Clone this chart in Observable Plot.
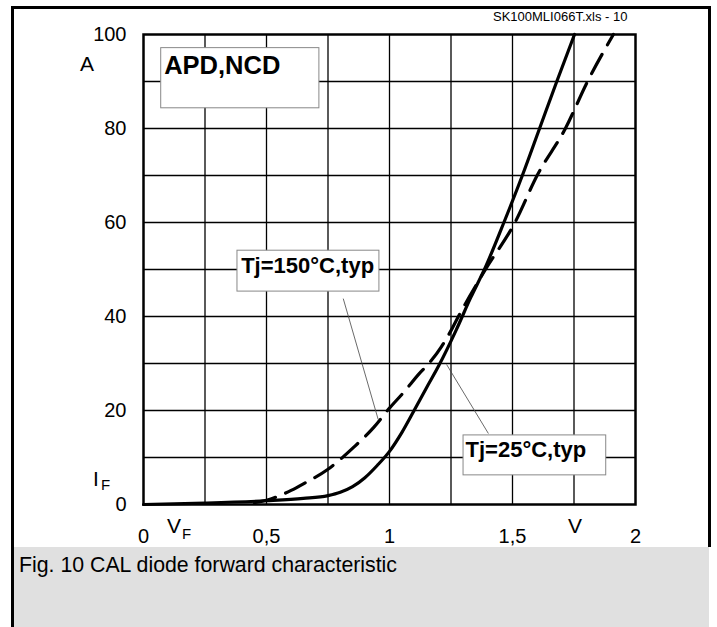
<!DOCTYPE html>
<html>
<head>
<meta charset="utf-8">
<script src="https://cdn.jsdelivr.net/npm/d3@7"></script>
<script src="https://cdn.jsdelivr.net/npm/@observablehq/plot@0.6"></script>
<style>
  html, body { margin: 0; padding: 0; background: white; }
  #wrap { position: relative; width: 717px; height: 627px; background: white; overflow: hidden;
          font-family: "Liberation Sans", Arial, Helvetica, sans-serif; }
  #chart { position: absolute; left: 0; top: 0; }
  #border { position: absolute; left: 11px; top: 6px; width: 700px; height: 541px; box-sizing: border-box;
            border-top: 3px solid black; border-left: 3px solid black; border-right: 3px solid black; }
  #leftbar { position: absolute; left: 11px; top: 547px; width: 3px; height: 80px; background: black; }
  #caption { position: absolute; left: 14px; top: 547px; width: 695px; height: 80px; background: #e0e0e0;
             font-size: 21.3px; line-height: 36px; padding-left: 5px; box-sizing: border-box; color: black; }
  #overlay { position: absolute; left: 0; top: 0; pointer-events: none; }
</style>
</head>
<body>
<div id="wrap">
  <div id="chart"></div>
  <div id="border"></div>
  <div id="leftbar"></div>
  <div id="caption">Fig. 10 CAL diode forward characteristic</div>
  <svg id="overlay" width="717" height="547" font-family="Liberation Sans, Arial, sans-serif" fill="black">
    <text x="493" y="16" font-size="13" dominant-baseline="central">SK100MLI066T.xls - 10</text>
    <text x="87" y="63" font-size="21" text-anchor="middle" dominant-baseline="central">A</text>
    <text x="93" y="478" font-size="21" dominant-baseline="central">I</text>
    <text x="101" y="484" font-size="15" dominant-baseline="central">F</text>
    <text x="167" y="525" font-size="21" dominant-baseline="central">V</text>
    <text x="182" y="533" font-size="15" dominant-baseline="central">F</text>
    <text x="575" y="525" font-size="21" text-anchor="middle" dominant-baseline="central">V</text>
  </svg>
</div>
<script>
// ---- data ----
const v25 = [0, 0.25, 0.5, 0.65, 0.75, 0.8, 0.85, 0.9, 0.95, 1.0, 1.05, 1.1, 1.15, 1.2, 1.27, 1.33, 1.39, 1.465, 1.54, 1.61, 1.68, 1.752];
const i25 = [0, 0.3, 0.8, 1.3, 1.9, 2.6, 3.8, 5.7, 8.3, 11.3, 15.3, 20, 24.8, 29.5, 37, 44, 50.5, 60, 70, 80, 90, 100];
const v150 = [0.45, 0.5, 0.55, 0.6, 0.65, 0.75, 0.855, 0.936, 1.0, 1.06, 1.12, 1.16, 1.21, 1.25, 1.28, 1.39, 1.51, 1.6, 1.715, 1.805, 1.91];
const i150 = [0.4, 0.9, 1.8, 3.0, 4.4, 7.5, 12.2, 16.4, 20.5, 24, 27.8, 30, 33.5, 37, 40, 50, 60, 70, 80, 90, 100];

const xTickValues = [0, 0.5, 1, 1.5, 2];
const yTickValues = [0, 20, 40, 60, 80, 100];
const xGridValues = [0.25, 0.5, 0.75, 1, 1.25, 1.5, 1.75];
const yGridValues = [10, 20, 30, 40, 50, 60, 70, 80, 90];

const labelTexts = ["APD,NCD", "Tj=150°C,typ", "Tj=25°C,typ"];
const labelX = [0.084, 0.397, 1.309];
const labelY = [93.4, 50.85, 11.5];
const labelSize = [25.5, 22, 22];
const boxX1 = [0.072, 0.382, 1.301];
const boxX2 = [0.715, 0.959, 1.881];
const boxY1 = [84.3, 45.3, 6.2];
const boxY2 = [97.1, 54.0, 14.7];
const leadX1 = [0.812, 1.402];
const leadY1 = [43.8, 15.1];
const leadX2 = [0.954, 1.232];
const leadY2 = [18.1, 29.8];

// ---- build tables ----
const d25 = v25.map((v, k) => ({V: v, I: i25[k]}));
const d150 = v150.map((v, k) => ({V: v, I: i150[k]}));
const labels = labelTexts.map((t, k) => ({t, x: labelX[k], y: labelY[k], s: labelSize[k]}));
const boxes = boxX1.map((x1, k) => ({x1, x2: boxX2[k], y1: boxY1[k], y2: boxY2[k]}));
const leaders = leadX1.map((x1, k) => ({x1, y1: leadY1[k], x2: leadX2[k], y2: leadY2[k]}));

const fmt = d => String(d).replace(".", ",");

const chart = Plot.plot({
  width: 717,
  height: 547,
  marginLeft: 143,
  marginRight: 82,
  marginTop: 34,
  marginBottom: 43,
  style: {fontFamily: "'Liberation Sans', Arial, sans-serif", background: "transparent", color: "black", overflow: "visible"},
  x: {domain: [0, 2]},
  y: {domain: [0, 100]},
  marks: [
    Plot.gridX(xGridValues, {stroke: "black", strokeOpacity: 1, strokeWidth: 1.3}),
    Plot.gridY(yGridValues, {stroke: "black", strokeOpacity: 1, strokeWidth: 1.3}),
    Plot.axisX(xTickValues, {tickSize: 0, tickPadding: 24, tickFormat: fmt, fontSize: 20, label: null}),
    Plot.axisY(yTickValues, {tickSize: 0, tickPadding: 17, fontSize: 20, label: null}),
    Plot.line(d25, {x: "V", y: "I", stroke: "black", strokeWidth: 3.2, curve: "monotone-x"}),
    Plot.line(d150, {x: "V", y: "I", stroke: "black", strokeWidth: 3.2, strokeDasharray: "22,11", curve: "monotone-x"}),
    Plot.link(leaders, {x1: "x1", y1: "y1", x2: "x2", y2: "y2", stroke: "#444", strokeWidth: 0.8}),
    Plot.rect(boxes, {x1: "x1", x2: "x2", y1: "y1", y2: "y2", fill: "white", stroke: "#888", strokeWidth: 1}),
    Plot.text(labels, {x: "x", y: "y", text: "t", fontSize: d => d.s, fontWeight: "bold", textAnchor: "start", fill: "black"}),
    Plot.frame({stroke: "black", strokeWidth: 2.5})
  ]
});
document.getElementById("chart").appendChild(chart);
</script>
</body>
</html>
